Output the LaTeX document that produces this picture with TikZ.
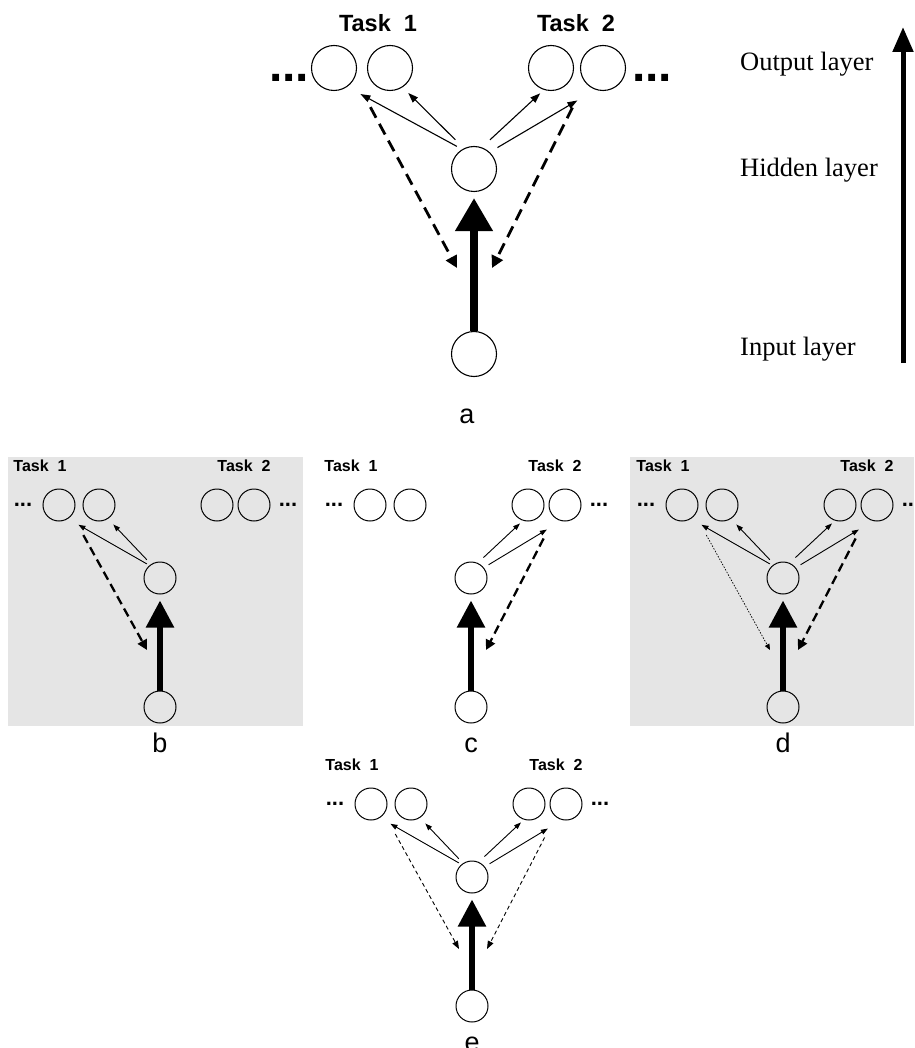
\documentclass[tikz,border=0pt]{standalone}
\usepackage{fontspec}
\setmainfont{Liberation Serif}
\setsansfont{Liberation Sans}
\usetikzlibrary{arrows.meta}

\begin{document}
\begin{tikzpicture}[x=1pt, y=-1pt,
    neuron/.style={circle, draw, line width=1.1pt, minimum size=45pt, inner sep=0pt},
    sneuron/.style={circle, draw, line width=1pt, minimum size=32pt, inner sep=0pt},
    task/.style={font=\sffamily\bfseries\fontsize{23.5}{28}\selectfont, anchor=base},
    stask/.style={font=\sffamily\bfseries\fontsize{16}{19}\selectfont, anchor=base},
    more/.style={font=\sffamily\bfseries\fontsize{48}{50}\selectfont, anchor=base, inner sep=0pt},
    smore/.style={font=\sffamily\bfseries\fontsize{22}{24}\selectfont, anchor=base, inner sep=0pt},
    panel/.style={font=\sffamily\fontsize{27}{30}\selectfont, anchor=base, inner sep=0pt},
    layer/.style={font=\fontsize{26.5}{30}\selectfont, anchor=base west, inner sep=0pt},
    shade/.style={fill=black!10, draw=none},
    feed/.style={line width=7.5pt, shorten >=6pt, -{Triangle[length=33pt,width=36pt]}},
    sfeed/.style={line width=5.5pt, shorten >=6pt, -{Triangle[length=27pt,width=27pt]}},
    fwd/.style={line width=1.1pt, -{Triangle[length=10pt,width=7pt]}},
    sfwd/.style={line width=0.9pt, -{Triangle[length=7pt,width=5pt]}},
    grad/.style={line width=2.8pt, dash pattern=on 12pt off 7pt, -{Triangle[length=12pt,width=12pt]}},
    sgrad/.style={line width=2.3pt, dash pattern=on 9pt off 5pt, -{Triangle[length=10pt,width=10pt]}},
    sweak/.style={line width=0.7pt, dash pattern=on 1.5pt off 1.5pt, -{Triangle[length=6pt,width=5pt]}},
    sthin/.style={line width=0.9pt, dash pattern=on 4pt off 3pt, -{Triangle[length=8pt,width=6pt]}},
    axis/.style={line width=5pt, -{Triangle[length=25pt,width=20pt]}}
  ]
  \useasboundingbox (0,0) rectangle (914,1048);

  % grey boxes behind b and d
  \fill[shade] (8,457) rectangle (303,726);
  \fill[shade] (630,457) rectangle (914,726);

  % panel a
  \begin{scope}[shift={(474,169)}]
    \node[neuron] (a-h) at (0,0) {};
    \node[neuron] (a-i) at (0,185) {};
    \foreach \n/\x in {1/-140, 2/-84, 3/77, 4/129}
      \node[neuron] (a-o\n) at (\x,-101) {};
    \node[task] (a-t1) at (-96,-137) {Task~~1};
    \node[task] (a-t2) at (102,-137) {Task~~2};
    \node[more] (a-m1) at (-185,-87) {...};
    \node[more] (a-m2) at (178,-87) {...};
    \node[panel] (a-lab) at (-7,254) {a};
    \coordinate (a-g1) at (-17,99);
    \coordinate (a-g2) at (18,99);
  \end{scope}
  \draw[feed] (a-i) -- (a-h);
  \draw[fwd, shorten <=6pt, shorten >=15pt] (a-h.121.5) -- (a-o1.-55.7);
  \draw[fwd, shorten <=12pt, shorten >=8pt] (a-h.116.8) -- (a-o2.-57.7);
  \draw[fwd, shorten <=11pt, shorten >=5pt] (a-h.70.2) -- (a-o3.-108.3);
  \draw[fwd, shorten <=9pt, shorten >=21pt] (a-h.47) -- (a-o4.-109.9);
  \draw[grad, shorten <=33pt] (a-o1.-26) -- (a-g1);
  \draw[grad, shorten <=28pt] (a-o4.-141) -- (a-g2);

  % layers
  \node[layer] (out) at (740,71) {Output layer};
  \node[layer] (hid) at (740,177) {Hidden layer};
  \node[layer] (inp) at (740,355) {Input layer};
  \coordinate (ax0) at (903,363);
  \coordinate (ax1) at (903,27);
  \draw[axis] (ax0) -- (ax1);

  % panels b to e
  \foreach \p/\px/\py in {b/160/578, c/471/578, d/783/578, e/472/877}
  {
    \begin{scope}[shift={(\px,\py)}]
      \node[sneuron] (\p-h) at (0,0) {};
      \node[sneuron] (\p-i) at (0,129) {};
      \foreach \n/\x in {1/-101, 2/-61, 3/57, 4/94}
        \node[sneuron] (\p-o\n) at (\x,-73) {};
      \node[stask] (\p-t1) at (-120,-107) {Task~~1};
      \node[stask] (\p-t2) at (84,-107) {Task~~2};
      \node[smore] (\p-m1) at (-137,-72) {...};
      \node[smore] (\p-m2) at (128,-72) {...};
      \node[panel] (\p-lab) at (0,174) {\p};
      \coordinate (\p-g1) at (-13,72);
      \coordinate (\p-g2) at (15,72);
    \end{scope}
    \draw[sfeed] (\p-i) -- (\p-h);
  }

  % task 1 side
  \foreach \p in {b,d,e}
  {
    \draw[sfwd, shorten <=3pt, shorten >=12pt] (\p-h.130) -- (\p-o1.-57.8);
    \draw[sfwd, shorten <=6pt, shorten >=7.7pt] (\p-h.123) -- (\p-o2.-57);
  }
  % task 2 side
  \foreach \p in {c,d,e}
  {
    \draw[sfwd, shorten <=7.8pt, shorten >=4pt] (\p-h.66.7) -- (\p-o3.-108.5);
    \draw[sfwd, shorten <=5.5pt, shorten >=16.5pt] (\p-h.39.4) -- (\p-o4.-104);
  }

  \draw[sgrad, shorten <=23pt] (b-o1.-37.7) -- (b-g1);
  \draw[sgrad, shorten <=23.5pt] (c-o4.-130) -- (c-g2);
  \draw[sweak, shorten <=23pt] (d-o1.-37.7) -- (d-g1);
  \draw[sgrad, shorten <=23.5pt] (d-o4.-130) -- (d-g2);
  \draw[sthin, shorten <=23pt] (e-o1.-37.7) -- (e-g1);
  \draw[sthin, shorten <=23.5pt] (e-o4.-130) -- (e-g2);
\end{tikzpicture}
\end{document}
